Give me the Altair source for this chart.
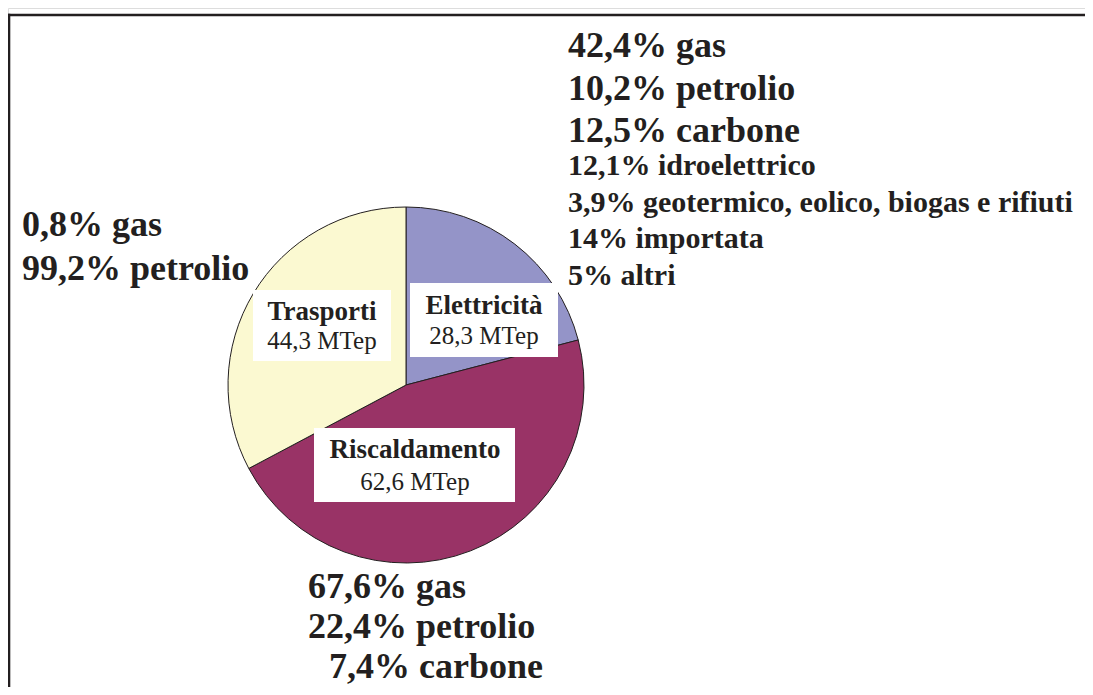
import altair as alt
import pandas as pd

# ---- data ----
sectors = ["Elettricità", "Riscaldamento", "Trasporti"]
mtep = [28.3, 62.6, 44.3]
mtep_labels = ["28,3 MTep", "62,6 MTep", "44,3 MTep"]
sector_colors = ["#9494c8", "#993366", "#fbf9d1"]

elec_mix_main = ["42,4% gas", "10,2% petrolio", "12,5% carbone"]
elec_mix_other = ["12,1% idroelettrico",
                  "3,9% geotermico, eolico, biogas e rifiuti",
                  "14% importata", "5% altri"]
transport_mix = ["0,8% gas", "99,2% petrolio"]
heating_mix = ["67,6% gas", "22,4% petrolio", "7,4% carbone"]

FONT = "Liberation Serif"
INK = "#231f20"

pie_df = pd.DataFrame({"settore": sectors, "mtep": mtep,
                       "ordine": list(range(len(sectors)))})
base = alt.Chart(pie_df)

one = pd.DataFrame({"k": [0]})

W, H = 1077, 679

frame_left = alt.Chart(one).mark_rule(stroke=INK, strokeWidth=2.6).encode(
    x=alt.value(1), y=alt.value(5.7), y2=alt.value(H))
frame_top = alt.Chart(one).mark_rule(stroke=INK, strokeWidth=2.6).encode(
    x=alt.value(-0.3), x2=alt.value(W), y=alt.value(7))

pie = base.mark_arc(radius=178, stroke=INK, strokeWidth=1).encode(
    theta=alt.Theta("mtep:Q", stack=True),
    order=alt.Order("ordine:O"),
    color=alt.Color("settore:N", scale=alt.Scale(domain=sectors, range=sector_colors),
                    legend=None),
    x=alt.value(398), y=alt.value(377),
)

layers = [frame_left, frame_top, pie]

# inner label boxes: (x0, x1, y0, y1, centre x, title baseline, value baseline)
boxes = {
    "Elettricità": (402, 550, 275, 349, 476, 306, 336),
    "Riscaldamento": (306, 507, 420, 494, 407, 450, 482),
    "Trasporti": (245, 383, 282, 353, 314, 312, 341),
}
for name, lab in zip(sectors, mtep_labels):
    x0, x1, y0, y1, cx, yt, yv = boxes[name]
    layers.append(alt.Chart(one).mark_rect(fill="white").encode(
        x=alt.value(x0), x2=alt.value(x1), y=alt.value(y0), y2=alt.value(y1)))
    layers.append(alt.Chart(one).mark_text(
        font=FONT, fontSize=27, fontWeight="bold", color=INK, align="center",
        baseline="alphabetic").encode(x=alt.value(cx), y=alt.value(yt), text=alt.value(name)))
    layers.append(alt.Chart(one).mark_text(
        font=FONT, fontSize=25, color=INK, align="center",
        baseline="alphabetic").encode(x=alt.value(cx), y=alt.value(yv), text=alt.value(lab)))


def block(lines, x, y, size, lh):
    return alt.Chart(one).mark_text(
        font=FONT, fontSize=size, fontWeight="bold", color=INK, align="left",
        baseline="alphabetic", lineHeight=lh
    ).encode(x=alt.value(x), y=alt.value(y), text=alt.value(lines))


layers += [
    block(elec_mix_main, 560, 49, 36, 42.5),
    block(elec_mix_other, 560, 167, 30, 36.5),
    block(transport_mix, 14, 228, 36, 44),
    block(heating_mix[:2], 300, 590, 36, 40),
    block(heating_mix[2:], 321, 670, 36, 40),
]

chart = alt.layer(*layers).properties(
    width=W, height=H, autosize=alt.AutoSizeParams(type="none"), padding=0
).configure_view(strokeWidth=0, stroke="transparent").configure(background="white")

chart.save("out.html", embed_options={"renderer": "svg", "actions": False})
